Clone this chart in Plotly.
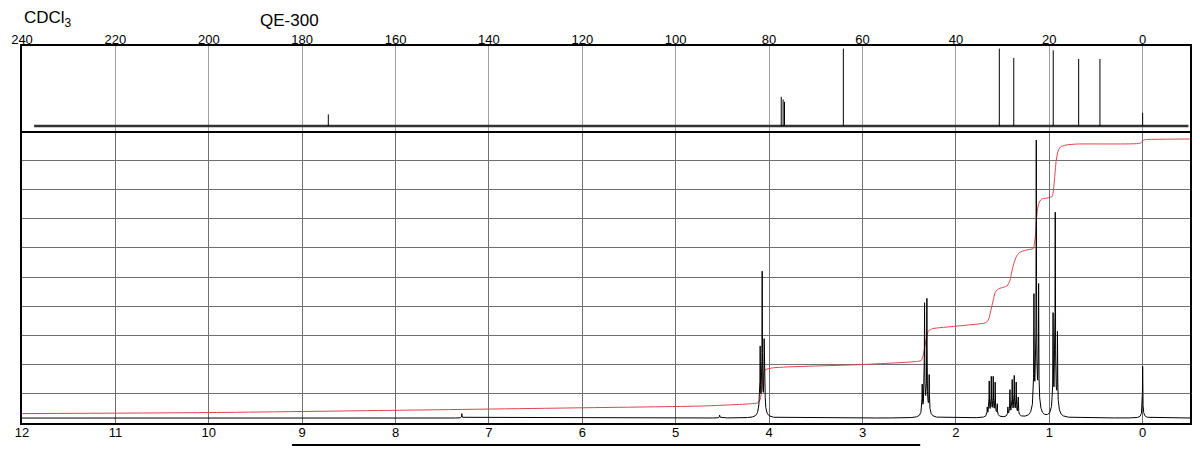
import numpy as np
import plotly.graph_objects as go

# ---------------- 13C spectrum (top panel) ----------------
c13_ppm = [174.4, 77.4, 77.0, 76.7, 64.1, 30.7, 27.6, 19.15, 13.7, 9.15, 0.0]
c13_height = [11.7, 29.3, 26.7, 24.3, 77.7, 77.7, 68.3, 76.0, 67.3, 67.3, 13.3]
c13_baseline_ppm = [237.4, -9.8]

# ---------------- 1H spectrum (bottom panel) ----------------
# observed line positions (ppm) and observed peak heights (grid units, 0-100)
h1_ppm = [4.104, 4.0955, 4.074, 4.053, 4.044,
          2.3605, 2.3355, 2.3105, 2.2855,
          1.664, 1.643, 1.621, 1.600, 1.579, 1.557,
          1.443, 1.421, 1.397, 1.375, 1.354, 1.332,
          1.164, 1.139, 1.114,
          0.959, 0.936, 0.912,
          7.29, 4.53, 0.0]
h1_height = [11.0, 24.7, 50.3, 27.2, 11.0,
             11.6, 39.5, 41.0, 14.9,
             3.8, 12.7, 14.3, 14.3, 12.3, 4.9,
             3.8, 9.7, 13.2, 14.6, 12.3, 7.2,
             42.6, 95.2, 46.1,
             36.1, 70.5, 29.7,
             1.5, 1.0, 17.7]
h1_baseline = 1.7

# integral curve
int_ppm = [12.0, 10.0, 8.0, 6.0, 4.7, 4.2, 4.12,
           4.095, 4.08, 4.07, 4.06, 4.04, 3.95,
           3.0, 2.4, 2.37, 2.35, 2.33, 2.31, 2.29, 2.25,
           2.0, 1.70, 1.665, 1.645, 1.625, 1.60, 1.58, 1.55, 1.45,
           1.44, 1.42, 1.40, 1.375, 1.35, 1.32, 1.25, 1.17,
           1.16, 1.145, 1.135, 1.12, 1.10, 1.08, 0.97,
           0.955, 0.94, 0.925, 0.905, 0.88, 0.82, 0.7, 0.03,
           0.01, 0.0, -0.01, -0.05, -0.507]
int_val = [3.22, 3.57, 4.35, 5.21, 5.83, 6.58, 6.92,
           8.12, 11.21, 14.64, 17.04, 18.24, 18.92,
           20.02, 21.15, 21.49, 23.21, 26.64, 30.07, 31.61, 32.29,
           33.15, 34.18, 34.69, 35.89, 38.64, 42.07, 44.64, 45.84, 46.97,
           47.55, 48.92, 52.01, 55.09, 57.15, 58.35, 59.20, 59.79,
           61.26, 65.38, 70.52, 74.29, 76.01, 76.69, 77.55,
           79.78, 84.92, 90.07, 93.15, 94.52, 95.20, 95.54, 95.78,
           96.23, 96.57, 96.91, 97.09, 97.26]

bottom_ticks = list(range(0, 13))
top_ticks = list(range(0, 241, 20))

# ---------------- line shape ----------------
G1, G2, FB = 0.0022, 0.018, 0.10


def shape(d):
    return (1 - FB) * G1 ** 2 / (d ** 2 + G1 ** 2) + FB * G2 ** 2 / (d ** 2 + G2 ** 2)


p = np.array(h1_ppm)
obs = np.array(h1_height)
A = shape(p[:, None] - p[None, :])
amp = np.maximum(np.linalg.solve(A, obs), 0)

xs = [np.arange(-0.507, 12.0001, 0.002), p]
for c in p:
    xs.append(np.linspace(c - 0.03, c + 0.03, 121))
x = np.unique(np.concatenate(xs))
y = h1_baseline + (amp[None, :] * shape(x[:, None] - p[None, :])).sum(axis=1)

# stick representation for 13C
cx, cy = [], []
for c, h in zip(c13_ppm, c13_height):
    cx += [c, c, None]
    cy += [0, h, None]

fig = go.Figure()
fig.add_trace(go.Scatter(x=c13_baseline_ppm, y=[0, 0], mode="lines",
                         line=dict(color="#333333", width=2.5), xaxis="x2", yaxis="y2",
                         hoverinfo="skip"))
fig.add_trace(go.Scatter(x=cx, y=cy, mode="lines", line=dict(color="black", width=1),
                         xaxis="x2", yaxis="y2"))
fig.add_trace(go.Scatter(x=int_ppm, y=int_val, mode="lines",
                         line=dict(color="#e0434a", width=1, shape="spline", smoothing=0.6),
                         xaxis="x", yaxis="y"))
fig.add_trace(go.Scatter(x=x, y=y, mode="lines", line=dict(color="black", width=1),
                         xaxis="x", yaxis="y"))

font = "Liberation Sans, Arial, sans-serif"
split = 0.7745
fig.update_layout(
    width=1200, height=461,
    margin=dict(l=22, r=10, t=46, b=38),
    paper_bgcolor="white", plot_bgcolor="white",
    showlegend=False,
    font=dict(family=font, size=13, color="black"),
    xaxis=dict(domain=[0, 1], range=[12, -0.507], anchor="y", automargin=False,
               tickvals=bottom_ticks, ticks="", showgrid=True, gridcolor="#707070", gridwidth=1,
               zeroline=False, showline=True, mirror=False, linecolor="black", linewidth=2,
               tickfont=dict(size=13), ticklabelstandoff=-4),
    yaxis=dict(domain=[0, split], range=[0, 100], dtick=10, tick0=0, showticklabels=False,
               automargin=False,
               ticks="", showgrid=True, gridcolor="#707070", gridwidth=1, zeroline=False,
               showline=True, mirror=True, linecolor="black", linewidth=2),
    xaxis2=dict(domain=[0, 1], range=[240, -10.14], anchor="y2", side="top", automargin=False,
                tickvals=top_ticks, ticks="", showgrid=True, gridcolor="#a0a0a0", gridwidth=1,
                zeroline=False, showline=True, mirror=True, linecolor="black", linewidth=2,
                tickfont=dict(size=13), ticklabelstandoff=-5),
    yaxis2=dict(domain=[split, 1], range=[-5, 80.3], showticklabels=False, ticks="",
                automargin=False,
                showgrid=False, zeroline=False, showline=True, mirror=True,
                linecolor="black", linewidth=1.5),
    annotations=[
        dict(text="CDCl<sub>3</sub>", x=0, y=1.071, xref="paper", yref="paper",
             xanchor="left", yanchor="middle", showarrow=False,
             font=dict(family=font, size=17, color="black")),
        dict(text="QE-300", x=0.2021, y=1.0676, xref="paper", yref="paper",
             xanchor="left", yanchor="middle", showarrow=False,
             font=dict(family=font, size=17, color="black")),
    ],
    shapes=[
        dict(type="line", xref="paper", yref="paper", x0=0.2312, x1=0.769,
             y0=-0.0584, y1=-0.0584, line=dict(color="black", width=2)),
    ],
)

fig.write_html("out.html", config={"displayModeBar": False},
               post_script="document.body.style.margin='0px';")
